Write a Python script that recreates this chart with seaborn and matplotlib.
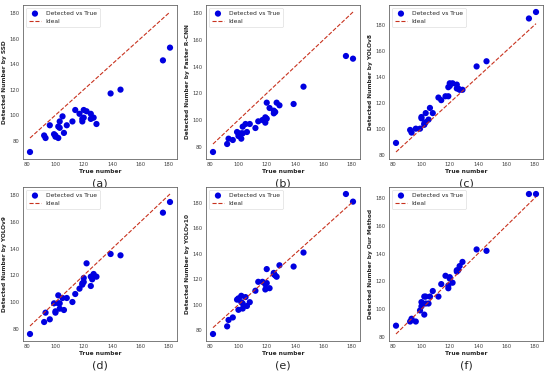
import matplotlib
matplotlib.use("Agg")
import matplotlib.pyplot as plt
import numpy as np
import pandas as pd
import seaborn as sns

# true counts (shared by all panels)
true_num = [82, 92, 93, 96, 99, 100, 100, 102, 102, 103, 103, 105, 106, 108, 112, 114,
            117, 119, 119, 120, 120, 122, 125, 125, 126, 127, 129, 139, 146, 176, 181]

ssd = [71, 84, 82, 92, 85, 84, 83, 82, 91, 90, 95, 99, 86, 92, 95, 104,
       101, 95, 97, 98, 104, 103, 101, 97, 98, 98, 93, 117, 120, 143, 153]
faster_rcnn = [76, 82, 86, 85, 91, 90, 88, 86, 90, 90, 95, 97, 91, 97, 94, 99,
               100, 102, 98, 101, 113, 109, 105, 107, 106, 113, 111, 112, 125, 148, 146]
yolov8 = [89, 99, 97, 100, 100, 108, 109, 104, 103, 112, 105, 107, 116, 112, 124, 122,
          125, 125, 132, 133, 135, 135, 134, 131, 131, 130, 130, 148, 152, 185, 190]
yolov9 = [76, 85, 92, 87, 99, 92, 93, 105, 99, 95, 99, 103, 94, 103, 100, 106,
          110, 113, 114, 118, 115, 129, 119, 112, 117, 121, 119, 136, 135, 167, 175]
yolov10 = [77, 83, 88, 90, 104, 105, 96, 107, 102, 101, 97, 106, 99, 102, 111, 118,
           118, 112, 116, 128, 117, 113, 125, 124, 123, 122, 131, 130, 141, 187, 181]
ours = [88, 91, 93, 91, 99, 105, 102, 96, 109, 109, 104, 104, 109, 113, 109, 118,
        124, 117, 115, 122, 123, 119, 127, 128, 128, 131, 134, 143, 142, 183, 183]

methods = ["SSD", "Faster R-CNN", "YOLOv8", "YOLOv9", "YOLOv10", "Our Method"]
panel_tags = ["(a)", "(b)", "(c)", "(d)", "(e)", "(f)"]
series = [ssd, faster_rcnn, yolov8, yolov9, yolov10, ours]


def draw_panel(ax, detected, method, tag):
    df = pd.DataFrame({"true": true_num, "detected": detected})
    sns.scatterplot(data=df, x="true", y="detected", color="#0000e0", s=20,
                    edgecolor="none", label="Detected vs True", ax=ax)
    ideal = pd.DataFrame({"x": [min(true_num), max(true_num)],
                          "y": [min(true_num), max(true_num)]})
    sns.lineplot(data=ideal, x="x", y="y", color="#c8321e", linestyle="--",
                 linewidth=0.8, label="Ideal", ax=ax)
    ax.set_xlabel("True number", fontsize=4.2, fontweight="bold", labelpad=1)
    ax.set_ylabel(f"Detected Number by {method}", fontsize=4.2,
                  fontweight="bold", labelpad=2)
    ax.set_xticks([80, 100, 120, 140, 160, 180])
    ax.set_yticks([80, 100, 120, 140, 160, 180])
    ax.tick_params(labelsize=3.8, length=1.5, width=0.4, pad=1,
                   colors="0.25")
    for sp in ax.spines.values():
        sp.set_color("0.4")
        sp.set_linewidth(0.6)
    leg = ax.legend(loc="upper left", fontsize=4.3, frameon=True,
                    markerscale=1.0, handlelength=2, borderpad=0.5,
                    labelspacing=0.4)
    leg.get_frame().set_linewidth(0.4)
    ax.text(0.5, -0.125, tag, transform=ax.transAxes, ha="center", va="top",
            fontsize=8)


if __name__ == "__main__":
    sns.set_style("white")
    fig = plt.figure(figsize=(5.5, 3.72), dpi=100)
    lefts = [23, 206, 389]
    tops = [5, 187]
    w, h = 154, 154
    for i, (det, m, tag) in enumerate(zip(series, methods, panel_tags)):
        r, c = divmod(i, 3)
        ax = fig.add_axes([lefts[c] / 550, 1 - (tops[r] + h) / 372, w / 550, h / 372])
        draw_panel(ax, det, m, tag)
    fig.savefig("out.png", dpi=100)
